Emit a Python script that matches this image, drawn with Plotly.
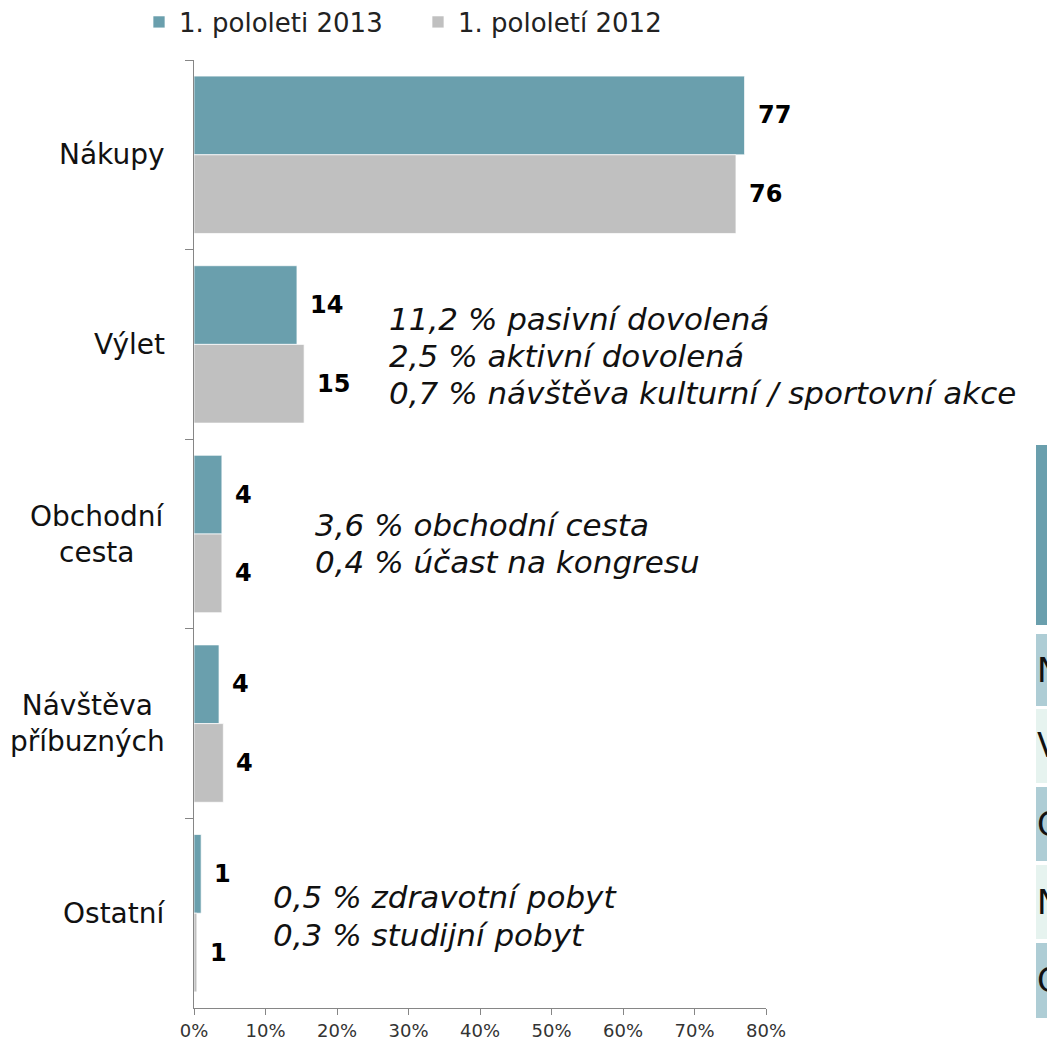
import plotly.graph_objects as go

categories = ["Nákupy", "Výlet", "Obchodní cesta", "Návštěva příbuzných", "Ostatní"]
category_labels = ["Nákupy", "Výlet", "Obchodní<br>cesta", "Návštěva<br>příbuzných", "Ostatní"]
series_names = ["1. pololeti 2013", "1. pololetí 2012"]
values_2013 = [77.0, 14.4, 3.9, 3.5, 1.0]
values_2012 = [75.8, 15.4, 3.9, 4.1, 0.4]
labels_2013 = ["77", "14", "4", "4", "1"]
labels_2012 = ["76", "15", "4", "4", "1"]
notes_vylet = ["11,2 % pasivní dovolená", "2,5 % aktivní dovolená",
               "0,7 % návštěva kulturní / sportovní akce"]
notes_obchodni = ["3,6 % obchodní cesta", "0,4 % účast na kongresu"]
notes_ostatni = ["0,5 % zdravotní pobyt", "0,3 % studijní pobyt"]
side_letters = ["N", "V", "O", "N", "O"]

TEAL = "#6a9fad"
GRAY = "#c0c0c0"
FONT = "DejaVu Sans"

OFF = 8  # page body margin
W, H = 1055 - OFF, 1044 - OFF
X0, X1, Y0, Y1 = 194, 766, 60, 1008  # plot area in page pixels
ML, MR, MT, MB = X0 - OFF, W - (X1 - OFF), Y0 - OFF, H - (Y1 - OFF)
PW = X1 - X0
PH = Y1 - Y0


def px2x(px):
    return (px - X0) / PW


def py2y(py):
    return (Y1 - py) / PH


def px2val(px):
    return (px - X0) / PW * 80


fig = go.Figure()
fig.add_trace(go.Bar(y=categories, x=values_2013, name=series_names[0], orientation="h",
                     marker=dict(color=TEAL, line=dict(color="rgba(255,255,255,0.7)", width=1))))
fig.add_trace(go.Bar(y=categories, x=values_2012, name=series_names[1], orientation="h",
                     marker=dict(color=GRAY, line=dict(color="rgba(255,255,255,0.7)", width=1))))

annotations = []
bar_half = PH / len(categories) * 0.83 / 4
for cat, v, t in zip(categories, values_2013, labels_2013):
    annotations.append(dict(x=v, y=cat, xref="x", yref="y", text=f"<b>{t}</b>", showarrow=False,
                            xanchor="left", yanchor="middle", xshift=11, yshift=bar_half,
                            font=dict(family=FONT, size=24, color="#000")))
for cat, v, t in zip(categories, values_2012, labels_2012):
    annotations.append(dict(x=v, y=cat, xref="x", yref="y", text=f"<b>{t}</b>", showarrow=False,
                            xanchor="left", yanchor="middle", xshift=11, yshift=-bar_half,
                            font=dict(family=FONT, size=24, color="#000")))
for cat, lab in zip(categories, category_labels):
    annotations.append(dict(x=px2x(167), y=cat, xref="paper", yref="y", text=lab, showarrow=False,
                            xanchor="right", yanchor="middle", align="center",
                            font=dict(family=FONT, size=28, color="#111")))

note_blocks = [
    (notes_vylet, 387, [319, 356, 393]),
    (notes_obchodni, 313, [525, 562]),
    (notes_ostatni, 271, [897, 935]),
]
for lines, left_px, ys in note_blocks:
    for line, ypx in zip(lines, ys):
        annotations.append(dict(x=px2val(left_px), y=py2y(ypx), xref="x", yref="paper",
                                text=f"<i>{line}</i>", showarrow=False, xanchor="left",
                                yanchor="middle", align="left",
                                font=dict(family=FONT, size=31, color="#111")))

# partial table at right edge
shapes = []
shapes.append(dict(type="rect", xref="paper", yref="paper", x0=px2x(1036), x1=px2x(1070),
                   y0=py2y(625), y1=py2y(445), fillcolor=TEAL, line=dict(width=0), layer="above"))
row_bounds = [(634, 706), (709, 783), (787, 861), (865, 939), (943, 1018)]
row_colors = ["#aecdd5", "#e6f3ef", "#aecdd5", "#e6f3ef", "#aecdd5"]
for (a, b), c, letter in zip(row_bounds, row_colors, side_letters):
    shapes.append(dict(type="rect", xref="paper", yref="paper", x0=px2x(1036), x1=px2x(1070),
                       y0=py2y(b), y1=py2y(a), fillcolor=c, line=dict(width=0), layer="above"))
    annotations.append(dict(x=px2x(1035), y=py2y((a + b) / 2), xref="paper", yref="paper",
                            text=letter, showarrow=False, xanchor="left", yanchor="middle",
                            font=dict(family=FONT, size=33, color="#111")))

fig.update_layout(
    width=W, height=H,
    margin=dict(l=ML, r=MR, t=MT, b=MB, autoexpand=False),
    paper_bgcolor="white", plot_bgcolor="white",
    barmode="group", bargap=0.17, bargroupgap=0,
    font=dict(family=FONT, color="#222"),
    showlegend=True,
    legend=dict(orientation="h", x=px2x(139), xanchor="left", y=py2y(22), yanchor="middle",
                font=dict(family=FONT, size=26, color="#222"), traceorder="normal",
                entrywidth=234, entrywidthmode="pixels", bgcolor="rgba(0,0,0,0)"),
    xaxis=dict(range=[0, 80], dtick=10, ticksuffix="%", showgrid=False, zeroline=False,
               showline=True, linecolor="#868686", linewidth=1, ticks="outside", ticklen=6,
               tickcolor="#868686", tickfont=dict(family=FONT, size=18, color="#333")),
    yaxis=dict(type="category", autorange="reversed", showgrid=False, zeroline=False,
               showline=True, linecolor="#868686", linewidth=1, ticks="outside", ticklen=8,
               tickcolor="#868686", tickson="boundaries", showticklabels=False),
    annotations=annotations,
    shapes=shapes,
)

fig.write_html("out.html")
